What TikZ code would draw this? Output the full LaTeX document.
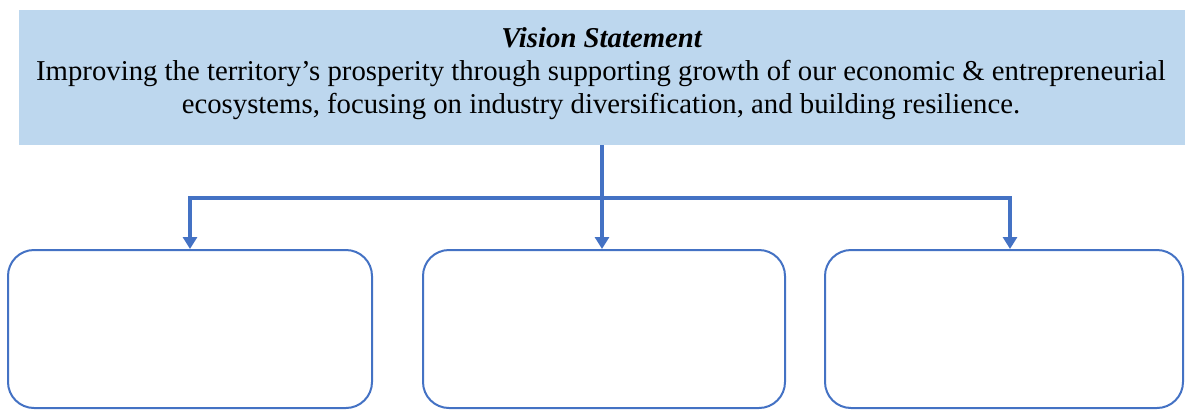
\documentclass[tikz,border=0pt]{standalone}
\usepackage{fontspec}
\setmainfont{Liberation Serif}
\usetikzlibrary{arrows.meta,calc}
\definecolor{visionfill}{HTML}{BDD7EE}
\definecolor{accent}{HTML}{4472C4}
\begin{document}
\begin{tikzpicture}[x=1pt,y=-1pt,
  visionbox/.style={rectangle, fill=visionfill, draw=none, minimum width=1166pt, minimum height=135pt, inner sep=0pt},
  vline/.style={anchor=base, inner sep=0pt, font=\fontsize{28.75}{33}\selectfont},
  goalbox/.style={rectangle, rounded corners=26pt, draw=accent, line width=2pt, fill=white, minimum height=158pt, inner sep=0pt},
  conn/.style={draw=accent, line width=4pt},
  tip/.style={-{Triangle[width=14pt,length=12pt]}}
]
\useasboundingbox (0,0) rectangle (1185,410);

% vision banner and its three lines of text
\node[visionbox] (vision) at (602,77.5) {};
\node[vline] (vtitle) at (602,47) {\textbf{\textit{Vision Statement}}};
\node[vline] (vtext1) at (601,80.5) {Improving the territory’s prosperity through supporting growth of our economic \& entrepreneurial};
\node[vline] (vtext2) at (601,113) {ecosystems, focusing on industry diversification, and building resilience.};

% three empty goal boxes
\node[goalbox, minimum width=364pt] (b1) at (190,329) {};
\node[goalbox, minimum width=362pt] (b2) at (604,329) {};
\node[goalbox, minimum width=358pt] (b3) at (1004,329) {};

% connectors
\coordinate (j) at (602,198);
\coordinate (t1) at (190,249);
\coordinate (t2) at (602,249);
\coordinate (t3) at (1010,249);
\draw[conn, tip] (vision.south) -- (t2);
\draw[conn, tip] (j) -| (t1);
\draw[conn, tip] (j) -| (t3);
\end{tikzpicture}
\end{document}
